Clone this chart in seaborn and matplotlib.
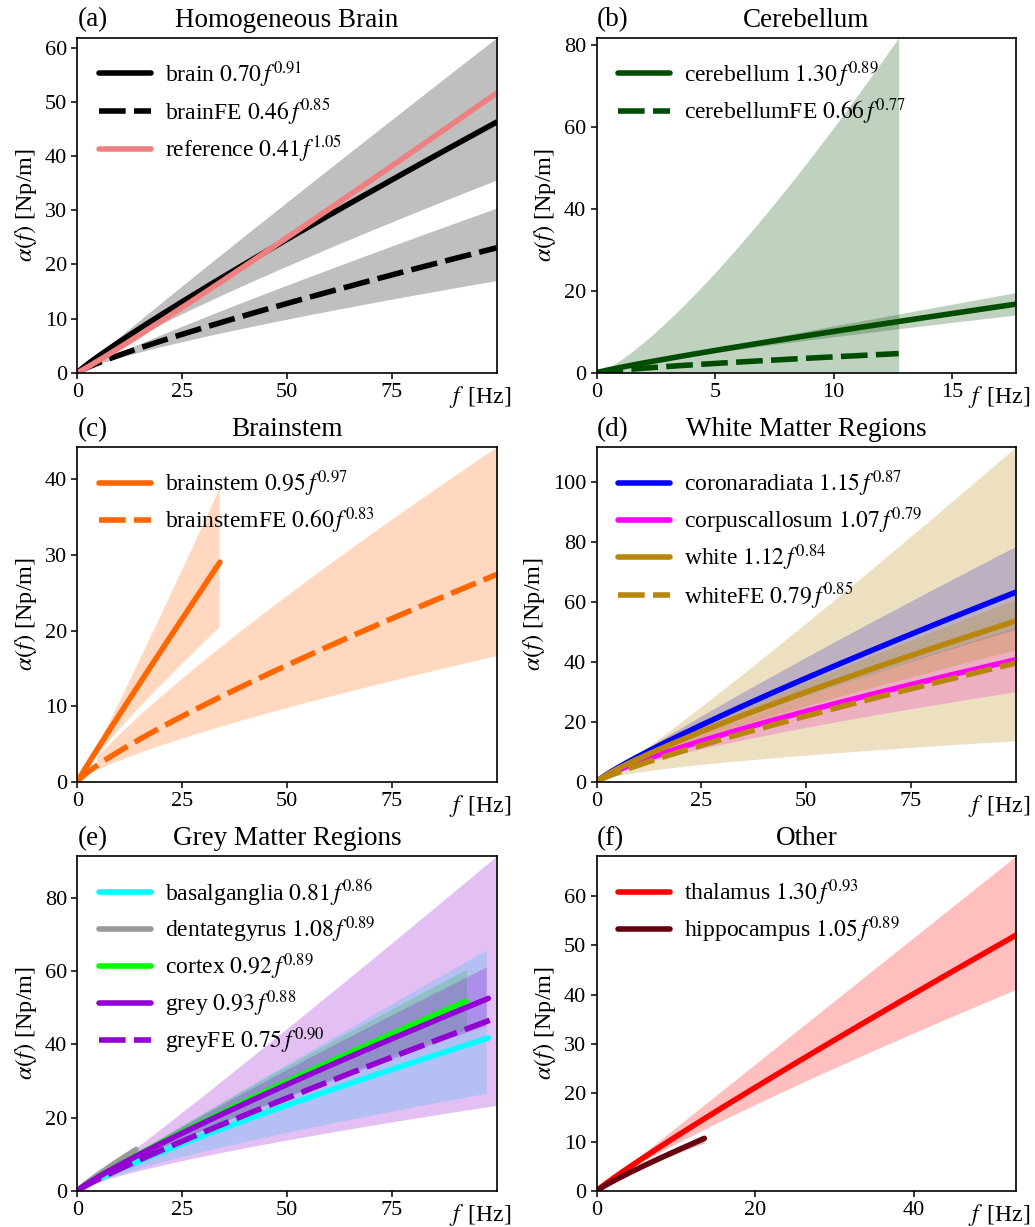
import numpy as np
import pandas as pd
import matplotlib
matplotlib.use("Agg")
import matplotlib.pyplot as plt
import seaborn as sns

# ---------------------------------------------------------------- data
panel_tags = ["(a)", "(b)", "(c)", "(d)", "(e)", "(f)"]
panel_titles = ["Homogeneous Brain", "Cerebellum", "Brainstem",
                "White Matter Regions", "Grey Matter Regions", "Other"]
panel_xticks = [[0, 25, 50, 75], [0, 5, 10, 15], [0, 25, 50, 75],
                [0, 25, 50, 75], [0, 25, 50, 75], [0, 20, 40]]
panel_yticks = [[0, 10, 20, 30, 40, 50, 60], [0, 20, 40, 60, 80],
                [0, 10, 20, 30, 40], [0, 20, 40, 60, 80, 100],
                [0, 20, 40, 60, 80], [0, 10, 20, 30, 40, 50, 60]]

# one entry per fitted tissue: alpha(f) = a * f**b
series_panel = [0, 0, 0, 1, 1, 2, 2, 3, 3, 3, 3, 4, 4, 4, 4, 4, 5, 5]
series_name = ["brain", "brainFE", "reference",
               "cerebellum", "cerebellumFE",
               "brainstem", "brainstemFE",
               "coronaradiata", "corpuscallosum", "white", "whiteFE",
               "basalganglia", "dentategyrus", "cortex", "grey", "greyFE",
               "thalamus", "hippocampus"]
coef_a = [0.70, 0.46, 0.41, 1.30, 0.66, 0.95, 0.60, 1.15, 1.07, 1.12, 0.79,
          0.81, 1.08, 0.92, 0.93, 0.75, 1.30, 1.05]
coef_b = [0.91, 0.85, 1.05, 0.89, 0.77, 0.97, 0.83, 0.87, 0.79, 0.84, 0.85,
          0.86, 0.89, 0.89, 0.88, 0.90, 0.93, 0.89]
# frequency range covered by each fit [Hz]
f_start = [0, 0, 0, 0, 0, 0, 0, 0, 0, 0, 0, 5.4, 0, 0, 0, 0, 0, 0]
f_stop = [100, 100, 100, 17.7, 12.75, 34, 100, 100, 100, 100, 100,
          98, 14, 92.8, 98, 100, 52.9, 13.6]

# uncertainty envelopes (lower / upper power laws); None = no envelope
band_a_lo = [0.70, 0.46, None, 1.30, 0.0, 0.95, 0.50, 1.15, 1.07, 1.12, 0.79,
             0.81, 1.08, 0.92, 0.93, 0.75, 1.30, 1.05]
band_b_lo = [0.853, 0.784, None, 0.830, 1.0, 0.873, 0.762, 0.823, 0.724, 0.797,
             0.620, 0.763, 0.851, 0.854, 0.848, 0.747, 0.870, 0.856]
band_a_hi = [0.70, 0.46, None, 1.30, 3.07, 0.95, 0.913, 1.15, 1.07, 1.12, 0.79,
             0.81, 1.08, 0.92, 0.93, 0.75, 1.30, 1.05]
band_b_hi = [0.973, 0.910, None, 0.944, 1.29, 1.054, 0.843, 0.917, 0.841, 0.867,
             1.075, 0.960, 0.928, 0.924, 0.914, 1.043, 0.998, 0.917]
band_start = [0, 0, None, 0, 0, 0, 4.6, 0, 0, 0, 0, 5.4, 0, 0, 0, 0, 0, 0]
band_stop = [100, 100, None, 17.7, 12.75, 33.8, 100, 100, 100, 100, 100,
             97.5, 14, 92.8, 97.5, 100, 52.9, 13.6]

series_color = ["black", "black", "#F08080",
                "#004d00", "#004d00",
                "#FF6600", "#FF6600",
                "#0000FF", "#FF00FF", "#B8860B", "#B8860B",
                "#00FFFF", "#999999", "#00FF00", "#9400D3", "#9400D3",
                "#FF0000", "#66000F"]
series_dashed = [False, True, False, False, True, False, True,
                 False, False, False, True, False, False, False, False, True,
                 False, False]

# ---------------------------------------------------------------- style
sns.set_theme(style="ticks", rc={
    "axes.edgecolor": "black", "axes.labelcolor": "black",
    "text.color": "black", "xtick.color": "black", "ytick.color": "black",
    "axes.linewidth": 1.2,
    "xtick.major.width": 1.1, "ytick.major.width": 1.1,
    "xtick.major.size": 4, "ytick.major.size": 4,
})
plt.rcParams["font.family"] = ["Liberation Serif", "DejaVu Serif"]
plt.rcParams["mathtext.fontset"] = "stix"

fig, axes = plt.subplots(3, 2, figsize=(10.35, 12.27), dpi=100)
fig.subplots_adjust(left=0.0747, right=0.9816, bottom=0.0293, top=0.9693,
                    wspace=0.238, hspace=0.221)
axes = axes.ravel()

LW = 4.0
DASH = (0, (4.8, 1.5))

for p, ax in enumerate(axes):
    idx = [i for i, k in enumerate(series_panel) if k == p]

    # envelopes first so every curve sits on top of them
    for i in idx:
        if band_a_lo[i] is None:
            continue
        fb = np.linspace(band_start[i], band_stop[i], 300)
        lo = band_a_lo[i] * fb ** band_b_lo[i]
        hi = band_a_hi[i] * fb ** band_b_hi[i]
        ax.fill_between(fb, lo, hi, color=series_color[i], alpha=0.25,
                        linewidth=0)

    for i in idx:
        f = np.linspace(f_start[i], f_stop[i], 300)
        df = pd.DataFrame({"f": f, "alpha": coef_a[i] * f ** coef_b[i]})
        label = (f"{series_name[i]} "
                 f"${coef_a[i]:.2f}\\,f^{{{coef_b[i]:.2f}}}$")
        sns.lineplot(data=df, x="f", y="alpha", ax=ax, color=series_color[i],
                     linewidth=LW, linestyle=DASH if series_dashed[i] else "-",
                     label=label, sort=False, estimator=None)

    ax.margins(x=0, y=0)
    ax.set_ylim(bottom=0)
    ax.set_xticks(panel_xticks[p])
    ax.set_yticks(panel_yticks[p])
    ax.tick_params(labelsize=16)

    ax.set_title(panel_titles[p], fontsize=19.5, pad=8)
    ax.set_title(panel_tags[p], loc="left", fontsize=19.5, pad=8)
    ax.set_ylabel(r"$\alpha(f)$ [Np/m]", fontsize=17.5)
    ax.set_xlabel(r"$f\,$ [Hz]", fontsize=17, loc="right")
    ax.xaxis.set_label_coords(1.035, -0.034)

    ax.legend(loc="upper left", frameon=False, fontsize=17,
              handlelength=2.2, handletextpad=0.6, labelspacing=0.28)

fig.savefig("out.png", dpi=100)
